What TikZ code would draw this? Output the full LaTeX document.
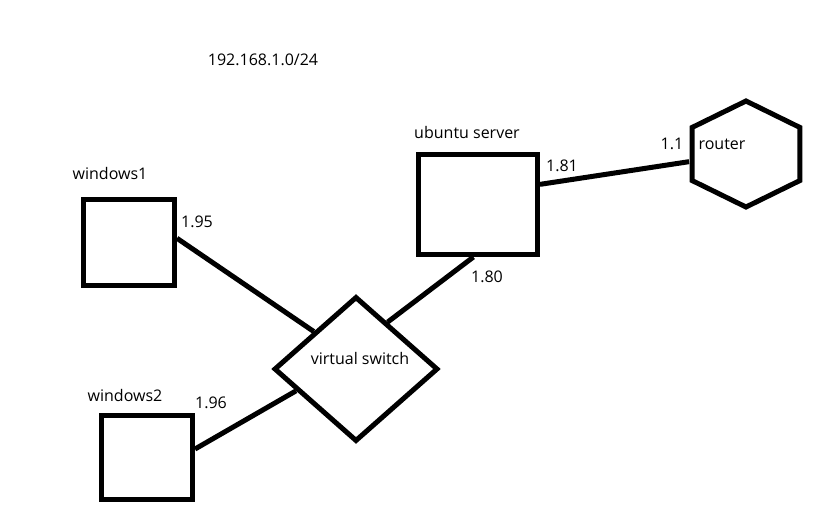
\documentclass[tikz,border=0pt]{standalone}
\usepackage{fontspec}
\setmainfont{Open Sans}
\usetikzlibrary{shapes.geometric}

\tikzset{
  wire/.style={line width=3.75pt},
  host/.style={draw, line width=3.75pt, inner sep=0pt},
  tag/.style={inner sep=0pt, font=\fontsize{12}{14}\selectfont},
}

\begin{document}
\begin{tikzpicture}[x=0.75pt, y=-0.75pt]

    \useasboundingbox (0,0) rectangle (826,529);

    % Subnet
    \node[tag] (net) at (263,60) {192.168.1.0/24};

    % Hosts
    \node[host, minimum width=68.25pt, minimum height=64.5pt] (win1) at (129,242.5) {};
    \node[tag] (win1-lbl) at (110,173) {windows1};
    \node[tag] (win1-ip) at (197,222) {1.95};

    \node[host, minimum width=68.25pt, minimum height=63pt] (win2) at (147,457.5) {};
    \node[tag] (win2-lbl) at (125,395) {windows2};
    \node[tag] (win2-ip) at (211,403) {1.96};

    \node[host, minimum width=89.25pt, minimum height=75pt] (ubuntu) at (478,204.5) {};
    \node[tag] (ubuntu-lbl) at (467,132) {ubuntu server};
    \node[tag] (ubuntu-ip1) at (562,166) {1.81};
    \node[tag] (ubuntu-ip2) at (487,277) {1.80};

    % Virtual switch
    \node[host, diamond, minimum width=123pt, minimum height=108.75pt] (vswitch) at (356,369) {};
    \node[tag] (vswitch-lbl) at (360,358) {virtual switch};

    % Router
    \node[host, regular polygon, regular polygon sides=6, regular polygon rotate=30,
          minimum size=79.5pt, xscale=1.176] (router) at (746,154) {};
    \node[tag] (router-lbl) at (722,144) {router};
    \node[tag] (router-ip) at (672,144) {1.1};

    % Links
    \draw[wire] (win1.5) -- (vswitch.north west);
    \draw[wire] (win2.10) -- (vswitch.200);
    \draw[wire] (ubuntu.265) -- (vswitch.56);
    \draw[wire] (ubuntu.18) -- (router.189);

\end{tikzpicture}
\end{document}
